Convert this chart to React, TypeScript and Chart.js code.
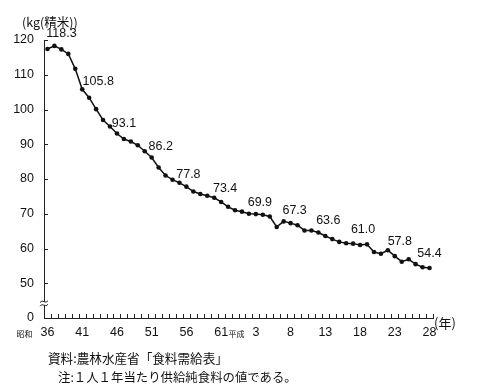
import React, { useEffect, useRef } from 'react';
import { Chart, registerables } from 'chart.js';

Chart.register(...registerables);

// Fiscal years: 昭和36 (1961) … 昭和63, 平成1 … 平成28 (2016)
const years: string[] = [
  '36', '37', '38', '39', '40', '41', '42', '43', '44', '45',
  '46', '47', '48', '49', '50', '51', '52', '53', '54', '55',
  '56', '57', '58', '59', '60', '61', '62', '63', '1', '2',
  '3', '4', '5', '6', '7', '8', '9', '10', '11', '12',
  '13', '14', '15', '16', '17', '18', '19', '20', '21', '22',
  '23', '24', '25', '26', '27', '28',
];

// Per-capita rice consumption (kg, polished rice)
const consumption: number[] = [
  117.4, 118.3, 117.3, 116.0, 111.7, 105.8, 103.4, 100.1, 97.0, 95.1,
  93.1, 91.5, 90.8, 89.7, 88.0, 86.2, 83.3, 81.0, 79.8, 78.9,
  77.8, 76.4, 75.7, 75.2, 74.6, 73.4, 72.0, 71.0, 70.6, 70.0,
  69.9, 69.7, 69.2, 66.2, 67.8, 67.3, 66.7, 65.2, 65.2, 64.6,
  63.6, 62.7, 61.9, 61.5, 61.4, 61.0, 61.2, 59.0, 58.5, 59.5,
  57.8, 56.2, 56.9, 55.5, 54.6, 54.4,
];

// Points that carry a value label
const labeledIndices: number[] = [1, 5, 10, 15, 20, 25, 30, 35, 40, 45, 50, 55];

// Era names written before the first label of each era
const eraNames: string[] = ['昭和', '平成'];
const eraStartIndices: number[] = [0, 30];

// Y axis: value 40 is the break, printed as "0"
const yMin = 40;
const yMax = 120;
const yStep = 10;
const yBreakLabel = '0';

const yUnit = '(kg(精米))';
const xUnit = '(年)';
const sourceNote = '資料:農林水産省「食料需給表」';
const footNote = '注:１人１年当たり供給純食料の値である。';

const NUM_FONT = "'Liberation Sans Narrow', 'Liberation Sans', Arial, sans-serif";
const JP_FONT = "'Noto Sans CJK JP', sans-serif";

// label offsets (dx, dy) relative to the point, in label order
const labelOffsets: [number, number][] = [
  [7, -12], [16, -8], [7, -10], [9, -11], [2, -12], [4, -13],
  [4, -12], [4, -13], [3, -15], [3, -15], [5, -15], [0, -14],
];

const decorPlugin = {
  id: 'decor',
  afterDraw(chart: any) {
    const { ctx, chartArea } = chart;
    const xs = chart.scales.x;
    const ys = chart.scales.y;
    const left = chartArea.left;
    const bottom = chartArea.bottom;
    ctx.save();
    ctx.strokeStyle = '#222';
    ctx.lineWidth = 1;

    // minor ticks on x axis (between categories)
    const half = (xs.getPixelForValue(1) - xs.getPixelForValue(0)) / 2;
    for (let i = 0; i <= years.length; i++) {
      const x = Math.round(i < years.length ? xs.getPixelForValue(i) - half : xs.getPixelForValue(years.length - 1) + half) + 0.5;
      ctx.beginPath();
      ctx.moveTo(x, bottom);
      ctx.lineTo(x, bottom - 4);
      ctx.stroke();
    }
    // y ticks inward
    ys.ticks.forEach((t: any) => {
      const y = Math.round(ys.getPixelForValue(t.value)) + 0.5;
      ctx.beginPath();
      ctx.moveTo(left, y);
      ctx.lineTo(left + 4, y);
      ctx.stroke();
    });

    // axis break symbol
    const yb = ys.getPixelForValue(44.2);
    ctx.fillStyle = '#fff';
    ctx.fillRect(left - 4, yb - 1.5, 9, 3);
    ctx.beginPath();
    for (const off of [-1.8, 1.8]) {
      ctx.moveTo(left - 4, yb + off + 1);
      ctx.bezierCurveTo(left - 1, yb + off - 3, left + 1, yb + off + 3, left + 4, yb + off - 1);
    }
    ctx.stroke();

    // value labels
    const meta = chart.getDatasetMeta(0);
    ctx.fillStyle = '#111';
    ctx.font = `12.5px ${NUM_FONT}`;
    ctx.textAlign = 'center';
    ctx.textBaseline = 'middle';
    labeledIndices.forEach((idx, k) => {
      const el = meta.data[idx];
      const [dx, dy] = labelOffsets[k];
      ctx.fillText(consumption[idx].toFixed(1), el.x + dx, el.y + dy);
    });

    // era names
    const labelY = bottom + 16;
    eraStartIndices.forEach((idx, k) => {
      ctx.font = `12.5px ${NUM_FONT}`;
      const w = ctx.measureText(years[idx]).width;
      ctx.font = `8px ${JP_FONT}`;
      ctx.textAlign = 'right';
      ctx.fillText(eraNames[k], xs.getPixelForValue(idx) - w / 2 - 8, labelY);
    });

    // axis unit labels
    ctx.font = `13px ${JP_FONT}`;
    ctx.textAlign = 'left';
    ctx.fillText(xUnit, chartArea.right + 1, bottom + 5);
    ctx.font = `12.5px ${JP_FONT}`;
    ctx.fillText(yUnit, 22, chartArea.top - 18);
    ctx.restore();
  },
};

export default function App() {
  const ref = useRef<HTMLCanvasElement | null>(null);
  useEffect(() => {
    if (!ref.current) return;
    const chart = new Chart(ref.current, {
      type: 'line',
      data: {
        labels: years,
        datasets: [
          {
            data: consumption,
            borderColor: '#111',
            borderWidth: 1.5,
            pointRadius: 2.3,
            pointBackgroundColor: '#111',
            pointBorderWidth: 0,
            tension: 0,
          },
        ],
      },
      options: {
        responsive: false,
        animation: false,
        devicePixelRatio: 1,
        layout: { padding: { left: 0, top: 40, right: 54, bottom: 42 } },
        plugins: { legend: { display: false }, tooltip: { enabled: false } },
        scales: {
          x: {
            type: 'category',
            offset: true,
            grid: { display: false, drawTicks: false },
            border: { display: true, color: '#222', width: 1 },
            ticks: {
              autoSkip: false,
              maxRotation: 0,
              padding: 7,
              color: '#111',
              font: { family: NUM_FONT, size: 12.5 },
              callback: (_v: any, i: number) => (i % 5 === 0 ? years[i] : ''),
            },
            afterFit: (s: any) => { s.height = 30; },
          },
          y: {
            min: yMin,
            max: yMax,
            grid: { display: false, drawTicks: false },
            border: { display: true, color: '#222', width: 1 },
            ticks: {
              stepSize: yStep,
              padding: 10,
              color: '#111',
              font: { family: NUM_FONT, size: 12.5 },
              callback: (v: any) => (v === yMin ? yBreakLabel : String(v)),
            },
            afterFit: (s: any) => { s.width = 44; },
          },
        },
      },
      plugins: [decorPlugin],
    });
    return () => chart.destroy();
  }, []);

  return (
    <div style={{ position: 'absolute', left: 0, top: 0, width: 487, height: 390, background: '#fff' }}>
      <canvas ref={ref} width={487} height={390} style={{ display: 'block' }} />
      <div style={{ position: 'absolute', left: 48, top: 349, font: `12.6px ${JP_FONT}`, color: '#111', whiteSpace: 'nowrap', lineHeight: '18px' }}>
        {sourceNote}
      </div>
      <div style={{ position: 'absolute', left: 58, top: 368, font: `12.4px ${JP_FONT}`, color: '#111', whiteSpace: 'nowrap', lineHeight: '18px' }}>
        {footNote}
      </div>
    </div>
  );
}
